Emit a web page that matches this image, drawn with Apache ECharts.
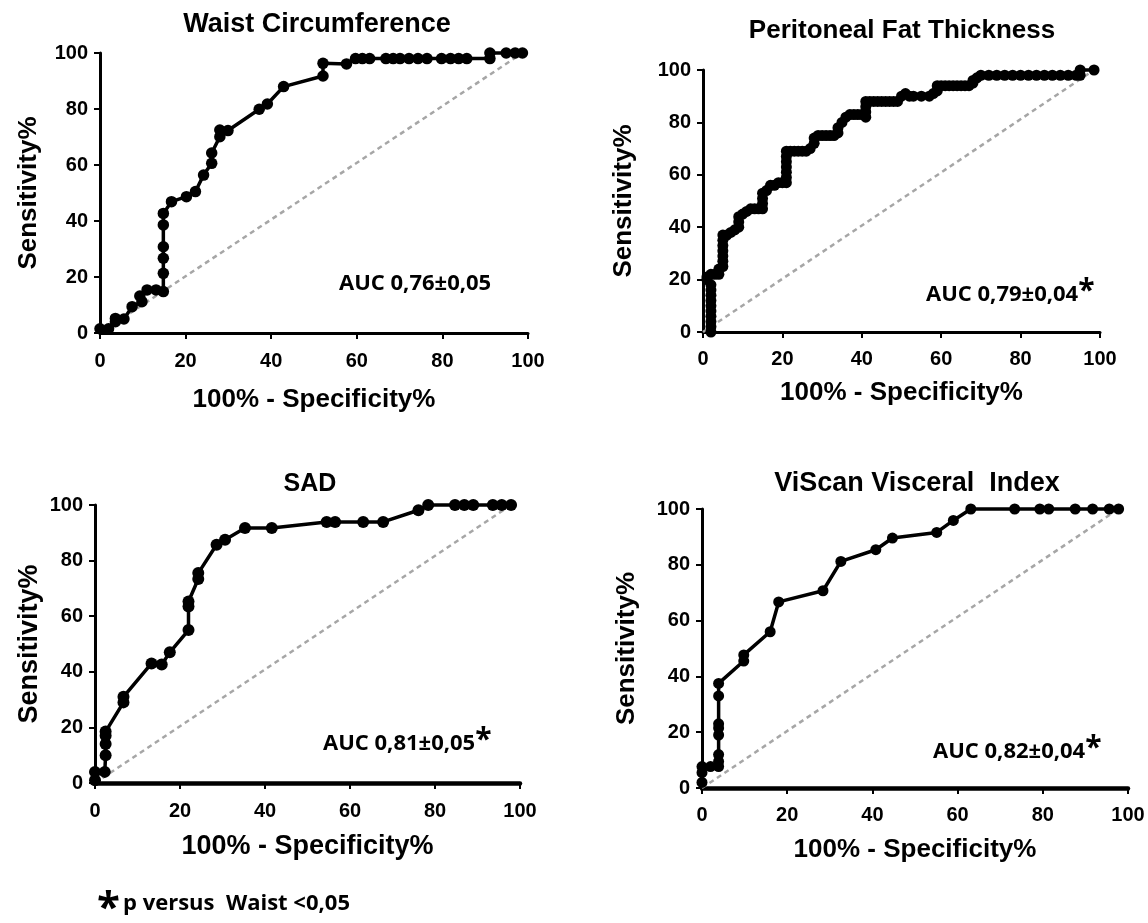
<!DOCTYPE html>
<html>
<head>
<meta charset="utf-8">
<script src="https://cdn.jsdelivr.net/npm/echarts@6/dist/echarts.min.js"></script>
<style>
html,body{margin:0;padding:0;background:#fff;}
#c{width:1148px;height:923px;}
</style>
</head>
<body>
<div id="c"></div>
<script>
// ---- data (x = 100% - Specificity%, y = Sensitivity%) ----
var plotTitles = ['Waist Circumference', 'Peritoneal Fat Thickness', 'SAD', 'ViScan Visceral  Index'];
var aucLabels = ['AUC 0,76\u00b10,05', 'AUC 0,79\u00b10,04', 'AUC 0,81\u00b10,05', 'AUC 0,82\u00b10,04'];
var aucStar = [false, true, true, true];
var axisTicks = [0, 20, 40, 60, 80, 100];
var xAxisName = '100% - Specificity%';
var yAxisName = 'Sensitivity%';
var footnote = 'p versus  Waist <0,05';

var waistPoints = [
  [0,1.5],[2,1.5],[3.6,4],[3.6,5.2],[5.6,5],[7.5,9.4],[9.8,11.2],[9.3,13.2],[11,15.4],[13.1,15.4],[14.8,14.8],
  [14.8,21.3],[14.8,26.7],[14.8,30.8],[14.8,38.6],[14.8,42.7],
  [16.7,46.9],[20.2,48.7],[22.3,50.5],[24.2,56.4],[26.1,60.6],[26.1,64.3],[28,70.1],[28,72.5],[29.9,72.3],
  [37.2,79.9],[39.1,81.8],[42.9,88],[52.1,91.8],[52.1,96.3],[57.6,96.1],
  [59.7,98],[61.3,98],[63,98],[66.8,98],[68.5,98],[70.1,98],[72.2,98],[74.3,98],[76.4,98],
  [79.8,98],[81.9,98],[83.8,98],[85.7,98],[91.1,98],[91.1,100],[94.9,100],[97,100],[98.7,100]
];

var peritonealPoints = [
  [2,0],[2,2],[2,4],[2,6],[2,8],[2,10],[2,12],[2,14],[2,16],[2,18],[1,20],[1,21],[2,22],
  [3,22],[4,22],[4,24],[5,25],[5,27],[5,29],[5,31],[5,33],[5,35],[5,37],[6,37],[7,38],[8,39],[9,40],
  [9,42],[9,44],[10,45],[11,46],[12,47],[13,47],[14,47],[15,47],[15,49],[15,51],[15,53],[16,54],
  [17,56],[18,56],[19,57],[20,57],[21,57],[21,59],[21,61],[21,63],[21,65],[21,67],[21,69],
  [22,69],[23,69],[24,69],[25,69],[26,69],[27,70],[28,72],[28,74],[29,75],[30,75],[31,75],[32,75],
  [33,75],[34,76],[34,78],[35,80],[36,82],[37,83],[38,83],[39,83],[40,83],[41,82],[41,84],[41,86],
  [41,88],[42,88],[43,88],[44,88],[45,88],[46,88],[47,88],[48,88],[49,88],[50,90],[51,91],[52,90],
  [53,90],[55,90],[57,90],[58,91],[59,92],[59,94],[60,94],[61,94],[62,94],[63,94],[64,94],[65,94],
  [66,94],[67,94],[68,95],[68,96],[69,97],[70,98],[72,98],[74,98],[76,98],[78,98],[80,98],[82,98],
  [84,98],[86,98],[88,98],[90,98],[92,98],[94,98],[95,98],[95,100],[98.5,100]
];

var sadPoints = [
  [0,1],[0,4],[2.3,4],[2.5,10],[2.5,14],[2.5,17],[2.5,18.5],[6.7,29],[6.7,31],[13.3,43],[15.7,42.6],
  [17.6,47],[22,55],[22,63.5],[22,65.3],[24.3,73.4],[24.3,75.5],[28.6,85.7],[30.6,87.5],[35.3,91.7],
  [41.6,91.7],[54.5,93.9],[56.5,93.9],[63.1,93.9],[67.8,93.9],[76.1,98.1],[78.4,100],[84.7,100],
  [86.9,100],[89,100],[93.6,100],[95.7,100],[97.9,100]
];

var viscanPoints = [
  [0,2],[0,5.5],[0,7.7],[2,7.7],[3.9,7.7],[3.9,9.5],[3.9,12],[3.9,19],[3.9,21.5],[3.9,23],[3.9,33],
  [3.9,37.5],[9.8,45.5],[9.8,47.7],[16,56],[18,66.7],[28.4,70.7],[32.6,81.2],[40.8,85.4],[44.7,89.6],
  [55.1,91.6],[59,95.9],[63.1,100],[73.4,100],[79.3,100],[81.4,100],[87.6,100],[91.7,100],[95.6,100],[97.8,100]
];

// ---- layout ----
var allPoints = [waistPoints, peritonealPoints, sadPoints, viscanPoints];
var grids = [
  {left: 100, top: 53, width: 428, height: 280},
  {left: 703, top: 70, width: 397, height: 262},
  {left: 95, top: 505, width: 425, height: 278},
  {left: 702, top: 509, width: 426, height: 279}
];
var yNameGap = [58, 66, 52, 62];
var xNameGap = [54, 48, 50, 49];
var xLabelMargin = [18, 17, 18, 17];
var xLineW = [3, 3, 4.5, 4.5];
var nameSize = [26, 26, 27, 26];
var titlePos = [[317, 25, 27], [902, 31, 26], [310, 484, 25], [917, 484, 27]];
var aucPos = [[339, 284], [926, 295], [323, 744], [933, 752]];
var symSize = [11.5, 11, 12, 11];
var lineW = [3.5, 3.5, 3.5, 3.5];

var F = 'Liberation Sans, Arial, sans-serif';
var F2 = 'Open Sans, sans-serif';

var xAxes = [], yAxes = [], series = [], graphics = [];
for (var i = 0; i < 4; i++) {
  xAxes.push({
    type: 'value', gridIndex: i, min: axisTicks[0], max: axisTicks[axisTicks.length - 1], interval: 20,
    name: xAxisName, nameLocation: 'middle', nameGap: xNameGap[i],
    nameTextStyle: {fontFamily: F, fontWeight: 'bold', fontSize: nameSize[i], color: '#000'},
    axisLine: {show: true, onZero: false, lineStyle: {color: '#000', width: xLineW[i]}},
    axisTick: {show: true, length: 6, lineStyle: {color: '#000', width: 2}},
    axisLabel: {fontFamily: F, fontWeight: 'bold', fontSize: 20, color: '#000', margin: xLabelMargin[i]},
    splitLine: {show: false}
  });
  yAxes.push({
    type: 'value', gridIndex: i, min: axisTicks[0], max: axisTicks[axisTicks.length - 1], interval: 20,
    name: yAxisName, nameLocation: 'middle', nameGap: yNameGap[i], nameRotate: 90,
    nameTextStyle: {fontFamily: F, fontWeight: 'bold', fontSize: nameSize[i], color: '#000'},
    axisLine: {show: true, onZero: false, lineStyle: {color: '#000', width: 3}},
    axisTick: {show: true, length: 6, lineStyle: {color: '#000', width: 2}},
    axisLabel: {fontFamily: F, fontWeight: 'bold', fontSize: 20, color: '#000', margin: 12},
    splitLine: {show: false}
  });
  var pts = allPoints[i];
  var last = pts[pts.length - 1];
  series.push({
    type: 'line', xAxisIndex: i, yAxisIndex: i, data: [[0, 0], [last[0], last[1]]],
    symbol: 'none', silent: true, clip: false, z: 1,
    lineStyle: {color: '#a6a6a6', width: 2.5, type: [5, 4]}
  });
  series.push({
    type: 'line', xAxisIndex: i, yAxisIndex: i, data: pts,
    symbol: 'circle', symbolSize: symSize[i], showAllSymbol: true, clip: false, z: 3,
    itemStyle: {color: '#000'},
    lineStyle: {color: '#000', width: lineW[i]}
  });
  graphics.push({
    type: 'text', x: titlePos[i][0], y: titlePos[i][1],
    style: {text: plotTitles[i], fill: '#000', font: 'bold ' + titlePos[i][2] + 'px ' + F,
      textAlign: 'center', textVerticalAlign: 'middle'}
  });
  graphics.push({
    type: 'text', x: aucPos[i][0], y: aucPos[i][1],
    style: {
      text: '{a|' + aucLabels[i] + '}' + (aucStar[i] ? '{b|*}' : ''),
      textAlign: 'left', textVerticalAlign: 'middle',
      rich: {
        a: {fontFamily: F2, fontWeight: 'bold', fontSize: 22, fill: '#000', lineHeight: 26},
        b: {fontFamily: F2, fontWeight: 'bold', fontSize: 30, fill: '#000', lineHeight: 26, padding: [0, 0, 8, 0]}
      }
    }
  });
}
graphics.push({
  type: 'text', x: 97, y: 909,
  style: {text: '*', fill: '#000', font: 'bold 42px ' + F2, textAlign: 'left', textVerticalAlign: 'middle'}
});
graphics.push({
  type: 'text', x: 123, y: 904,
  style: {text: footnote, fill: '#000', font: 'bold 22px ' + F2, textAlign: 'left', textVerticalAlign: 'middle'}
});

var chart = echarts.init(document.getElementById('c'), null, {renderer: 'canvas'});
chart.setOption({
  backgroundColor: '#fff',
  animation: false,
  grid: grids,
  xAxis: xAxes,
  yAxis: yAxes,
  series: series,
  graphic: graphics
});
</script>
</body>
</html>
